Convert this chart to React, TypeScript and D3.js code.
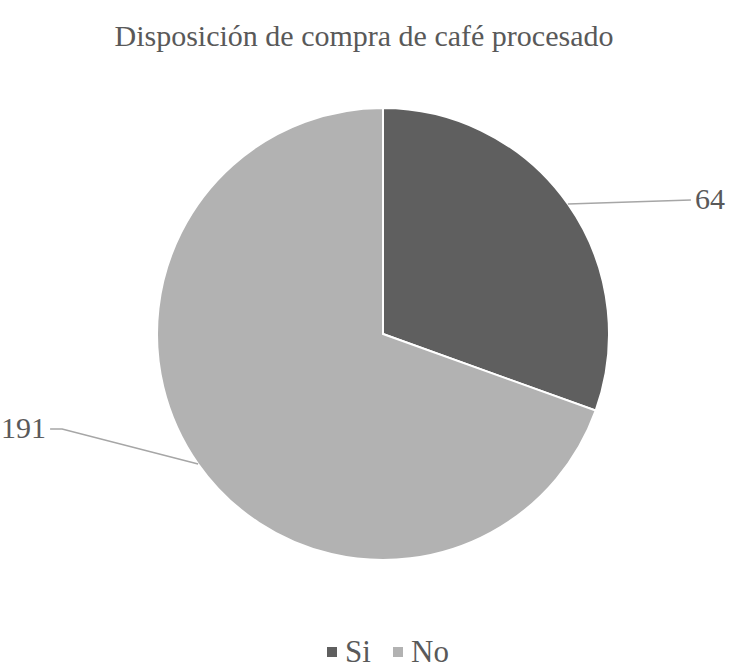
import React, { useEffect, useRef } from "react";
import * as d3 from "d3";

const title = "Disposición de compra de café procesado";
const categories = ["Si", "No"];
// value labels printed on the chart
const counts = [64, 191];
// slice shares (%) as drawn in the picture
const shares = [30.5, 69.5];
const colors = ["#5f5f5f", "#b2b2b2"];

const width = 730;
const height = 668;

export default function App() {
  const node = useRef<SVGSVGElement | null>(null);

  useEffect(() => {
    const svg = d3.select(node.current);
    svg.selectAll("*").remove();

    const cx = 383;
    const cy = 334;
    const radius = 226;
    const font = "'Liberation Serif', 'Times New Roman', serif";
    const textColor = "#595959";

    svg
      .append("text")
      .attr("x", 364)
      .attr("y", 46)
      .attr("text-anchor", "middle")
      .attr("font-family", font)
      .attr("font-size", 30)
      .attr("fill", textColor)
      .text(title);

    const color = d3.scaleOrdinal<string, string>().domain(categories).range(colors);

    const pie = d3
      .pie<number>()
      .value((d) => d)
      .sort(null);

    const arc = d3.arc<d3.PieArcDatum<number>>().innerRadius(0).outerRadius(radius);
    const outer = d3.arc<d3.PieArcDatum<number>>().innerRadius(radius).outerRadius(radius);

    const arcs = pie(shares);
    const g = svg.append("g").attr("transform", `translate(${cx},${cy})`);

    g.selectAll("path")
      .data(arcs)
      .enter()
      .append("path")
      .attr("d", arc)
      .attr("fill", (d, i) => color(categories[i]))
      .attr("stroke", "#fff")
      .attr("stroke-width", 2);

    // leader lines + labels
    arcs.forEach((d, i) => {
      const [x0, y0] = outer.centroid(d);
      let pts: [number, number][];
      let tx: number;
      let anchor: string;
      if (i === 0) {
        pts = [
          [x0, y0],
          [x0 + 123, y0 - 4],
        ];
        tx = x0 + 127;
        anchor = "start";
      } else {
        const ex = x0 - 136;
        const ey = y0 - 35;
        pts = [
          [x0, y0],
          [ex, ey],
          [ex - 12, ey],
        ];
        tx = ex - 16;
        anchor = "end";
      }
      g.append("path")
        .attr("d", d3.line()(pts))
        .attr("fill", "none")
        .attr("stroke", "#a6a6a6")
        .attr("stroke-width", 1.5);
      const last = pts[pts.length - 1];
      g.append("text")
        .attr("x", tx)
        .attr("y", last[1] + 9)
        .attr("text-anchor", anchor)
        .attr("font-family", font)
        .attr("font-size", 30)
        .attr("fill", textColor)
        .text(counts[i]);
    });

    // legend
    const legend = svg.append("g").attr("transform", `translate(327, 662)`);
    const item = legend
      .selectAll("g")
      .data(categories)
      .enter()
      .append("g")
      .attr("transform", (d, i) => `translate(${i * 66},0)`);
    item
      .append("rect")
      .attr("x", 0)
      .attr("y", -15)
      .attr("width", 10)
      .attr("height", 10)
      .attr("fill", (d) => color(d));
    item
      .append("text")
      .attr("x", 18)
      .attr("y", 0)
      .attr("font-family", font)
      .attr("font-size", 31)
      .attr("fill", textColor)
      .text((d) => d);
  }, []);

  return (
    <svg
      ref={node}
      width={width}
      height={height}
      style={{ position: "absolute", left: 0, top: 0 }}
    ></svg>
  );
}
